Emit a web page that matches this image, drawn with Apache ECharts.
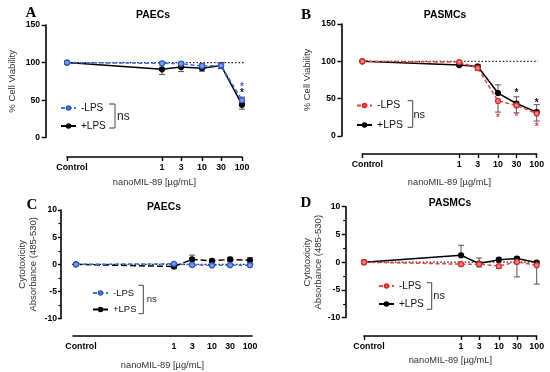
<!DOCTYPE html>
<html><head><meta charset="utf-8">
<script src="https://cdn.jsdelivr.net/npm/echarts@6/dist/echarts.min.js"></script>
<style>html,body{margin:0;padding:0;background:#fff}#c{width:550px;height:372px}</style>
</head><body><div id="c"></div><script>
// ---------- DATA ----------
const concentrations = ['Control', 1, 3, 10, 30, 100];
const tickLabels = ['Control', '1', '3', '10', '30', '100'];
const groupNames = ['-LPS', '+LPS'];
const panelTitles = ['PAECs', 'PASMCs', 'PAECs', 'PASMCs'];
const panelLetters = ['A', 'B', 'C', 'D'];
const xAxisTitle = 'nanoMIL-89 [µg/mL]';
const viabilityAxisTitle = '% Cell Viability';
const cytotoxAxisTitle = 'Cytotoxicity\nAbsorbance (485-530)';

// A: PAECs viability
const viabPAECsMinus      = [100, 99, 98.5, 95.5, 96, 50];
const viabPAECsMinusUp    = [0, 2, 2, 3, 4, 4];
const viabPAECsMinusDown  = [0, 2, 2, 3, 4, 4];
const viabPAECsPlus       = [100, 91, 94, 92.5, 96, 44];
const viabPAECsPlusUp     = [0, 7, 6, 4, 4, 6];
const viabPAECsPlusDown   = [0, 7, 6, 4, 4, 6];
const viabPAECsMinusStars = [null, null, null, null, null, 70];
const viabPAECsPlusStars  = [null, null, null, null, null, 62];

// B: PASMCs viability
const viabPASMCsMinus      = [100, 99, 91, 47, 41, 30];
const viabPASMCsMinusUp    = [0, 1, 2, 0, 0, 0];
const viabPASMCsMinusDown  = [0, 1.5, 3, 15, 10, 10];
const viabPASMCsPlus       = [100, 95, 93, 57.5, 43.5, 32];
const viabPASMCsPlusUp     = [0, 1.5, 3, 11, 9, 10];
const viabPASMCsPlusDown   = [0, 1.5, 3, 0, 0, 0];
const viabPASMCsMinusStars = [null, null, null, 27, 28, 15];
const viabPASMCsPlusStars  = [null, null, null, null, 60, 47];

// C: PAECs cytotoxicity
const cytoPAECsMinus     = [0, 0.1, -0.1, -0.2, -0.15, -0.15];
const cytoPAECsMinusUp   = [0, 0.2, 0.2, 0.2, 0.2, 0.2];
const cytoPAECsMinusDown = [0, 0.2, 0.2, 0.2, 0.2, 0.2];
const cytoPAECsPlus      = [0, -0.4, 0.9, 0.65, 0.9, 0.75];
const cytoPAECsPlusUp    = [0, 0.3, 0.8, 0.3, 0.4, 0.5];
const cytoPAECsPlusDown  = [0, 0.3, 0.8, 0.3, 0.4, 0.5];

// D: PASMCs cytotoxicity
const cytoPASMCsMinus     = [0, -0.35, -0.35, -0.7, 0.05, -0.55];
const cytoPASMCsMinusUp   = [0, 0, 0, 0, 0, 0];
const cytoPASMCsMinusDown = [0, 0.3, 0.5, 0.4, 2.7, 3.4];
const cytoPASMCsPlus      = [0, 1.25, -0.25, 0.45, 0.65, -0.05];
const cytoPASMCsPlusUp    = [0, 1.8, 1.0, 0.3, 0.3, 0.23];
const cytoPASMCsPlusDown  = [0, 0, 0, 0, 0, 0];

// ---------- STYLE / LAYOUT ----------
const FONT = '"Liberation Sans", Arial, sans-serif';
const BLUE = {line: '#3f6fd8', fill: '#7a9cea', border: '#2d5bc4'};
const RED = {line: '#ea4444', fill: '#f47e7e', border: '#d52b2b'};
const BLACK = {line: '#000000', fill: '#000000', border: '#000000'};

const panels = [
  {minus: [viabPAECsMinus, viabPAECsMinusUp, viabPAECsMinusDown, viabPAECsMinusStars],
   plus: [viabPAECsPlus, viabPAECsPlusUp, viabPAECsPlusDown, viabPAECsPlusStars],
   mc: BLUE, minusDash: [4, 2.5], plusDash: 'solid', yName: viabilityAxisTitle, ref: 100,
   L: {gl: 67, gt: 25, gw: 175, gh: 112.7, ctrl: -2.375, pxDec: 40, xMin: -2.375, xMax: 2,
       yMin: 0, yMax: 150, yInt: 50, yOff: 21, xOff: 19.3, xTicks: true, minor: false,
       refX: [-2.9, 2.275], yGap: 28, xGap: 21, yMargin: 6, yTick: 4.3,
       letter: [31, 13.5], title: [153, 15.5],
       legend: [60, 103, 8, 10], bracket: [109, 115, 104, 128], ns: [117, 117, 12]}},
  {minus: [viabPASMCsMinus, viabPASMCsMinusUp, viabPASMCsMinusDown, viabPASMCsMinusStars],
   plus: [viabPASMCsPlus, viabPASMCsPlusUp, viabPASMCsPlusDown, viabPASMCsPlusStars],
   mc: RED, minusDash: [4, 2.5], plusDash: 'solid', yName: viabilityAxisTitle, ref: 100,
   L: {gl: 362.3, gt: 24, gw: 174.4, gh: 112, ctrl: -2.506, pxDec: 38.7, xMin: -2.506, xMax: 2,
       yMin: 0, yMax: 150, yInt: 50, yOff: 20.6, xOff: 18, xTicks: true, minor: false,
       refX: [-3.04, 2.26], yGap: 28.7, xGap: 23.5, yMargin: 6, yTick: 4.3,
       letter: [306, 14.7], title: [445, 15.5],
       legend: [356, 100, 8.5, 10.5], bracket: [407.7, 412.7, 100.7, 127.3], ns: [413.5, 115, 11]}},
  {minus: [cytoPAECsMinus, cytoPAECsMinusUp, cytoPAECsMinusDown, null],
   plus: [cytoPAECsPlus, cytoPAECsPlusUp, cytoPAECsPlusDown, null],
   mc: BLUE, minusDash: [4, 2.5], plusDash: [6, 3], yName: cytotoxAxisTitle, ref: 0,
   L: {gl: 73, gt: 210, gw: 179, gh: 108.7, ctrl: -2.579, pxDec: 38, xMin: -2.658, xMax: 2.053,
       yMin: -10, yMax: 10, yInt: 5, yOff: 12, xOff: 17.3, xTicks: false, minor: true,
       refX: [-2.974, 2.1], yGap: 22.5, xGap: 24.5, yMargin: 4, yTick: 3,
       letter: [32, 205], title: [164, 207],
       legend: [92, 288, 6.5, 9.5], bracket: [138.3, 143.3, 285.3, 313.7], ns: [146.7, 299.3, 9.5]}},
  {minus: [cytoPASMCsMinus, cytoPASMCsMinusUp, cytoPASMCsMinusDown, null],
   plus: [cytoPASMCsPlus, cytoPASMCsPlusUp, cytoPASMCsPlusDown, null],
   mc: RED, minusDash: [4, 2.5], plusDash: 'solid', yName: cytotoxAxisTitle, ref: 0,
   L: {gl: 364, gt: 206.7, gw: 172.7, gh: 111, ctrl: -2.566, pxDec: 37.85, xMin: -2.566, xMax: 2,
       yMin: -10, yMax: 10, yInt: 5, yOff: 18.3, xOff: 18.3, xTicks: true, minor: true,
       refX: [-3.05, 2.08], yGap: 20.7, xGap: 19.5, yMargin: 5.5, yTick: 4,
       letter: [306, 202.7], title: [450, 203.5],
       legend: [378, 281, 8, 10], bracket: [426.7, 431.7, 282.7, 309.3], ns: [433.3, 296, 11]}}
];

// ---------- BUILD ----------
const grids = [], xAxes = [], yAxes = [], series = [], legends = [], graphics = [];

function xPos(c, L) { return c === 'Control' ? L.ctrl : Math.log10(c); }

panels.forEach((P, i) => {
  const L = P.L;
  const xs = concentrations.map(c => xPos(c, L));
  const labelPos = concentrations.map(c => c === 'Control' ? L.ctrl + 5 / L.pxDec : Math.log10(c));
  grids.push({left: L.gl, top: L.gt, width: L.gw, height: L.gh, containLabel: false});
  xAxes.push({
    type: 'value', gridIndex: i, min: L.xMin, max: L.xMax, offset: L.xOff,
    name: xAxisTitle, nameLocation: 'middle', nameGap: L.xGap,
    nameTextStyle: {fontFamily: FONT, fontSize: 9.3, color: '#333'},
    axisLine: {show: true, onZero: false, lineStyle: {color: '#000', width: 1.6}},
    axisTick: {show: L.xTicks, customValues: xs, length: 4, lineStyle: {color: '#000', width: 1.4}},
    axisLabel: {customValues: labelPos, margin: 6, fontFamily: FONT, fontSize: 8.8, fontWeight: 'bold', color: '#000',
      formatter: v => { const k = labelPos.findIndex(p => Math.abs(p - v) < 1e-6); return k >= 0 ? tickLabels[k] : ''; }},
    splitLine: {show: false}
  });
  yAxes.push({
    type: 'value', gridIndex: i, min: L.yMin, max: L.yMax, interval: L.yInt, offset: L.yOff,
    name: P.yName, nameLocation: 'middle', nameGap: L.yGap,
    nameTextStyle: {fontFamily: FONT, fontSize: 9.5, color: '#333', lineHeight: 11},
    axisLine: {show: true, onZero: false, lineStyle: {color: '#000', width: 1.6}},
    axisTick: {show: true, length: L.yTick, lineStyle: {color: '#000', width: 1.4}},
    minorTick: {show: L.minor, splitNumber: 2, length: 2.5, lineStyle: {color: '#000', width: 1.2}},
    axisLabel: {margin: L.yMargin, fontFamily: FONT, fontSize: 8.6, fontWeight: 'bold', color: '#000'},
    splitLine: {show: false}
  });
  // reference dotted line
  series.push({type: 'line', xAxisIndex: i, yAxisIndex: i, data: [[L.refX[0], P.ref], [L.refX[1], P.ref]],
    symbol: 'none', clip: false, silent: true, z: 1,
    lineStyle: {type: [1.5, 2], color: '#222', width: 1.2}});

  const groups = [
    {g: P.plus, name: panelLetters[i] + '|' + groupNames[1], col: BLACK, dash: P.plusDash, z: 4},
    {g: P.minus, name: panelLetters[i] + '|' + groupNames[0], col: P.mc, dash: P.minusDash, z: 5}
  ];
  groups.forEach(G => {
    const [vals, up, down, stars] = G.g;
    // error bars
    const eb = [];
    vals.forEach((v, k) => { if (up[k] > 0 || down[k] > 0) eb.push([xs[k], v, v + up[k], v - down[k]]); });
    series.push({type: 'custom', xAxisIndex: i, yAxisIndex: i, data: eb, silent: true, z: 2,
      encode: {x: 0, y: [1, 2, 3]},
      renderItem: (params, api) => {
        const x = api.value(0), v = api.value(1), hiV = api.value(2), loV = api.value(3);
        const hi = api.coord([x, hiV]), lo = api.coord([x, loV]);
        const st = {stroke: '#555', lineWidth: 1};
        const ch = [{type: 'line', shape: {x1: hi[0], y1: hi[1], x2: lo[0], y2: lo[1]}, style: st}];
        if (hiV > v) ch.push({type: 'line', shape: {x1: hi[0] - 3, y1: hi[1], x2: hi[0] + 3, y2: hi[1]}, style: st});
        if (loV < v) ch.push({type: 'line', shape: {x1: lo[0] - 3, y1: lo[1], x2: lo[0] + 3, y2: lo[1]}, style: st});
        return {type: 'group', children: ch};
      }});
    series.push({type: 'line', name: G.name, xAxisIndex: i, yAxisIndex: i, z: G.z,
      data: vals.map((v, k) => [xs[k], v]), symbol: 'circle', symbolSize: 5, showSymbol: true, clip: false,
      lineStyle: {color: G.col.line, width: 1.5, type: G.dash},
      itemStyle: {color: G.col.fill, borderColor: G.col.border, borderWidth: 1.2},
      emphasis: {disabled: true}});
    if (stars) {
      const sd = [];
      stars.forEach((s, k) => { if (s !== null) sd.push([xs[k], s]); });
      series.push({type: 'custom', xAxisIndex: i, yAxisIndex: i, data: sd, silent: true, z: 6,
        encode: {x: 0, y: 1},
        renderItem: (params, api) => {
          const p = api.coord([api.value(0), api.value(1)]);
          return {type: 'text', x: p[0], y: p[1] + 2, style: {text: '*', fill: G.col.line === '#000000' ? '#111' : G.col.line,
            font: 'bold 10px ' + FONT, align: 'center', verticalAlign: 'middle'}};
        }});
    }
  });
  legends.push({orient: 'vertical', left: L.legend[0], top: L.legend[1], padding: 0, itemGap: L.legend[2],
    itemWidth: 15, itemHeight: 4.5, selectedMode: false,
    data: [panelLetters[i] + '|' + groupNames[0], panelLetters[i] + '|' + groupNames[1]],
    formatter: n => n.split('|')[1],
    textStyle: {fontFamily: FONT, fontSize: L.legend[3], color: '#111'}});
  // letter + title
  graphics.push({type: 'text', x: L.letter[0], y: L.letter[1], style: {text: panelLetters[i],
    font: 'bold 15px "Liberation Serif", "Times New Roman", serif', fill: '#000', align: 'center', verticalAlign: 'middle'}});
  graphics.push({type: 'text', x: L.title[0], y: L.title[1], style: {text: panelTitles[i],
    font: 'bold 10.4px ' + FONT, fill: '#000', align: 'center', verticalAlign: 'middle'}});
  const b = L.bracket;
  graphics.push({type: 'polyline', shape: {points: [[b[0], b[2]], [b[1], b[2]], [b[1], b[3]], [b[0], b[3]]]},
    style: {stroke: '#444', lineWidth: 1, fill: null}});
  graphics.push({type: 'text', x: L.ns[0], y: L.ns[1], style: {text: 'ns', font: L.ns[2] + 'px ' + FONT, fill: '#222',
    align: 'left', verticalAlign: 'middle'}});
});

const chart = echarts.init(document.getElementById('c'), null, {renderer: 'canvas'});
chart.setOption({
  animation: false, backgroundColor: '#fff',
  grid: grids, xAxis: xAxes, yAxis: yAxes, series, legend: legends, graphic: graphics
});
</script></body></html>
